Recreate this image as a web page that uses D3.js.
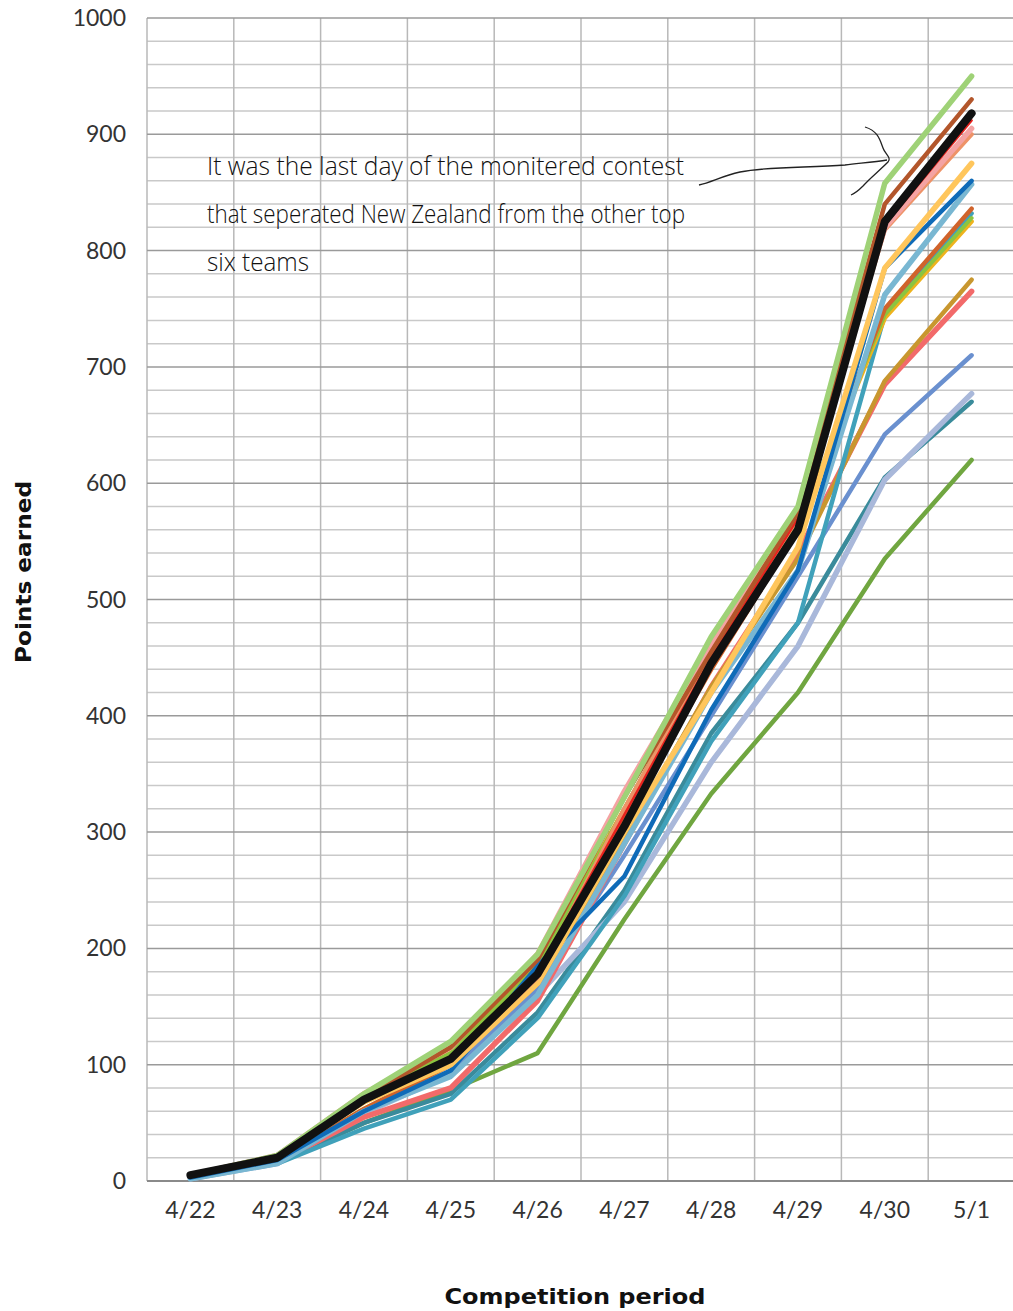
<!DOCTYPE html>
<html>
<head>
<meta charset="utf-8">
<script src="https://cdn.jsdelivr.net/npm/d3@7"></script>
<style>
  html, body { margin: 0; padding: 0; background: #fff; }
  svg { display: block; }
</style>
</head>
<body>
<svg id="chart" width="1013" height="1311"></svg>
<script>
const dates = ["4/22","4/23","4/24","4/25","4/26","4/27","4/28","4/29","4/30","5/1"];
const yTicks = [0,100,200,300,400,500,600,700,800,900,1000];

const oliveGreen  = [3, 16, 50, 78, 110, 225, 333, 420, 535, 620];
const darkTeal    = [3, 16, 50, 75, 145, 250, 385, 480, 605, 670];
const lavender    = [2, 15, 58, 92, 160, 240, 360, 460, 603, 677];
const mediumBlue  = [3, 17, 60, 95, 165, 280, 400, 520, 642, 710];
const coral       = [3, 16, 55, 80, 155, 290, 425, 540, 685, 765];
const ochre       = [4, 18, 62, 100, 170, 295, 425, 535, 688, 775];
const teal        = [2, 15, 45, 70, 140, 245, 378, 480, 745, 832];
const gold        = [5, 22, 72, 110, 188, 320, 450, 560, 742, 825];
const yellowGreen = [5, 20, 72, 110, 185, 320, 455, 565, 745, 828];
const orangeBrown = [3, 18, 62, 100, 170, 310, 440, 560, 750, 836];
const lightBlue   = [2, 15, 60, 90, 160, 290, 420, 525, 762, 857];
const blue        = [3, 18, 60, 95, 185, 262, 405, 525, 785, 860];
const lightOrange = [5, 20, 68, 100, 170, 300, 420, 545, 785, 875];
const salmon      = [5, 20, 72, 105, 175, 320, 452, 570, 818, 900];
const pink        = [5, 22, 75, 115, 195, 335, 462, 575, 820, 905];
const red         = [5, 20, 70, 105, 180, 315, 450, 570, 822, 912];
const brown       = [5, 22, 72, 115, 190, 330, 455, 575, 840, 930];
const lightGreen  = [5, 22, 75, 120, 195, 330, 468, 580, 858, 950];
const newZealand  = [5, 20, 70, 105, 178, 305, 445, 560, 825, 918];

const seriesValues = [oliveGreen, darkTeal, lavender, mediumBlue, coral, ochre, teal, gold,
  yellowGreen, orangeBrown, lightBlue, blue, lightOrange, salmon, pink, red, brown, lightGreen, newZealand];
const seriesColors = ["#70a640", "#3a8b9b", "#a9b8da", "#6a90cf", "#f26a6a", "#c8972f", "#40a1ba", "#eeb31d",
  "#8cc43f", "#d0632b", "#79b7d2", "#0f6bb8", "#ffc65c", "#ee9368", "#f4a3a3", "#e8231e", "#b3562b", "#9fd277", "#111111"];
const seriesWidths = [4.5, 4.5, 5.5, 4.5, 5.5, 4.5, 4.5, 4.5, 4, 4.5, 5.5, 4.5, 5.5, 4.5, 5.5, 2.5, 4.5, 5.5, 8];

const annotationLines = ["It was the last day of the monitered contest",
  "that seperated New Zealand from the other top", "six teams"];

const svg = d3.select("#chart");
const pLeft = 147, pRight = 1015, pTop = 18, pBottom = 1181;

const x = d3.scalePoint().domain(dates).range([pLeft, pRight]).padding(0.5);
const y = d3.scaleLinear().domain([0, 1000]).range([pBottom, pTop]);
const step = x.step();

// minor horizontal grid (every 20)
const minor = d3.range(20, 1000, 20).filter(v => v % 100 !== 0);
svg.append("g").selectAll("line").data(minor).join("line")
  .attr("x1", pLeft).attr("x2", pRight)
  .attr("y1", d => y(d)).attr("y2", d => y(d))
  .attr("stroke", "#c9c9c9").attr("stroke-width", 1.5);

// vertical grid at category boundaries
const vBounds = dates.map(d => x(d) - step / 2).concat([x(dates[dates.length - 1]) + step / 2]);
svg.append("g").selectAll("line").data(vBounds).join("line")
  .attr("x1", d => d).attr("x2", d => d)
  .attr("y1", pTop).attr("y2", pBottom)
  .attr("stroke", "#b8b8b8").attr("stroke-width", 1.5);

// major horizontal grid
svg.append("g").selectAll("line").data(yTicks.filter(v => v > 0)).join("line")
  .attr("x1", pLeft).attr("x2", pRight)
  .attr("y1", d => y(d)).attr("y2", d => y(d))
  .attr("stroke", "#9a9a9a").attr("stroke-width", 1.5);

// baseline
svg.append("line").attr("x1", pLeft).attr("x2", pRight).attr("y1", y(0)).attr("y2", y(0))
  .attr("stroke", "#8a8a8a").attr("stroke-width", 2);

// y labels
svg.append("g").selectAll("text").data(yTicks).join("text")
  .attr("x", 126).attr("y", d => y(d)).attr("dy", "0.35em")
  .attr("text-anchor", "end")
  .attr("font-family", "Lato, 'Noto Sans', sans-serif").attr("font-size", 23)
  .attr("fill", "#333").text(d => d);

// x labels
svg.append("g").selectAll("text").data(dates).join("text")
  .attr("x", d => x(d)).attr("y", 1210).attr("dy", "0.35em")
  .attr("text-anchor", "middle")
  .attr("font-family", "Lato, 'Noto Sans', sans-serif").attr("font-size", 23)
  .attr("fill", "#333").text(d => d);

// axis titles
svg.append("text").attr("transform", "translate(31,572) rotate(-90)")
  .attr("text-anchor", "middle")
  .attr("font-family", "'DejaVu Sans', sans-serif").attr("font-weight", "bold").attr("font-size", 22)
  .attr("textLength", 182).attr("lengthAdjust", "spacingAndGlyphs")
  .attr("fill", "#111").text("Points earned");
svg.append("text").attr("x", 575).attr("y", 1304)
  .attr("text-anchor", "middle")
  .attr("font-family", "'DejaVu Sans', sans-serif").attr("font-weight", "bold").attr("font-size", 22)
  .attr("textLength", 261).attr("lengthAdjust", "spacingAndGlyphs")
  .attr("fill", "#111").text("Competition period");

// series lines
const line = d3.line().x((d, i) => x(dates[i])).y(d => y(d));
svg.append("g").selectAll("path").data(seriesValues).join("path")
  .attr("d", d => line(d))
  .attr("fill", "none")
  .attr("stroke", (d, i) => seriesColors[i])
  .attr("stroke-width", (d, i) => seriesWidths[i])
  .attr("stroke-linejoin", "round").attr("stroke-linecap", "round");

// annotation text
const ann = svg.append("g");
const annWidths = [477, 478, 102];
ann.selectAll("text").data(annotationLines).join("text")
  .attr("x", 207).attr("y", (d, i) => 175 + i * 48)
  .attr("font-family", "'Open Sans', sans-serif").attr("font-weight", 300).attr("font-size", 25)
  .attr("fill", "#111")
  .attr("textLength", (d, i) => annWidths[i]).attr("lengthAdjust", "spacingAndGlyphs")
  .text(d => d);

// hand-drawn arrow
ann.append("path")
  .attr("d", "M699,185 C712,182 722,176 740,172 C770,166 810,168 845,165 C862,163 875,162 887,160")
  .attr("fill", "none").attr("stroke", "#222").attr("stroke-width", 1.3);
ann.append("path")
  .attr("d", "M865,127 C878,131 880,140 883,148 C885,154 892,158 888,162 C878,172 870,178 863,186 C858,191 856,193 851,195")
  .attr("fill", "none").attr("stroke", "#222").attr("stroke-width", 1.3);
</script>
</body>
</html>
